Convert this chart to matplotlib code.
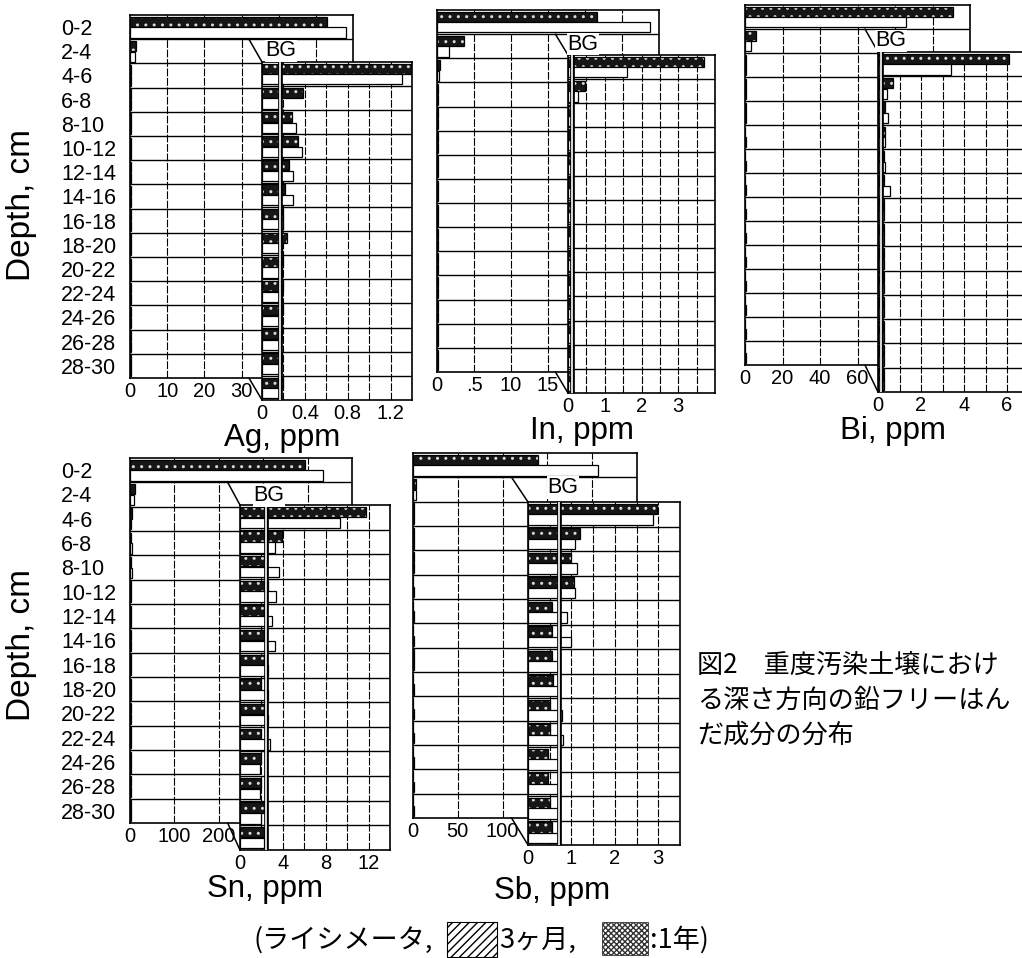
import numpy as np
import matplotlib
matplotlib.use("Agg")
import matplotlib.pyplot as plt
from matplotlib.patches import ConnectionPatch, Rectangle
from matplotlib.transforms import blended_transform_factory

plt.rcParams['font.family'] = ['Liberation Sans', 'Noto Sans CJK JP', 'DejaVu Sans']
plt.rcParams['hatch.linewidth'] = 1.0

# ---------------- data ----------------
depths = ["0-2", "2-4", "4-6", "6-8", "8-10", "10-12", "12-14", "14-16",
          "16-18", "18-20", "20-22", "22-24", "24-26", "26-28", "28-30"]

# upper (dark) bars = 1年, lower (light) bars = 3ヶ月
ag_dark  = [53, 1.5, 0.38, 0.28, 0.34, 0.25, 0.21, 0.20, 0.23, 0.20, 0.20, 0.20, 0.19, 0.19, 0.20]
ag_light = [58, 1.31, 0.17, 0.32, 0.37, 0.29, 0.29, 0.20, 0.19, 0.19, 0.19, 0.19, 0.18, 0.18, 0.18]
in_dark  = [21.6, 3.7, 0.45, 0.12, 0.10, 0.12, 0.10, 0.12, 0.10, 0.10, 0.10, 0.12, 0.10, 0.10, 0.10]
in_light = [28.8, 1.6, 0.28, 0.10, 0.12, 0.10, 0.12, 0.10, 0.12, 0.10, 0.10, 0.10, 0.12, 0.10, 0.10]
bi_dark  = [111, 6.1, 0.70, 0.33, 0.33, 0.26, 0.26, 0.26, 0.26, 0.26, 0.26, 0.26, 0.26, 0.26, 0.26]
bi_light = [86, 3.4, 0.40, 0.47, 0.33, 0.33, 0.56, 0.30, 0.30, 0.30, 0.30, 0.30, 0.30, 0.30, 0.30]
sn_dark  = [394, 11.8, 3.9, 2.5, 2.6, 2.2, 2.2, 2.2, 2.0, 2.2, 2.0, 2.0, 2.0, 2.2, 2.3]
sn_light = [435, 9.3, 3.3, 3.6, 3.4, 3.0, 3.3, 2.6, 2.6, 2.6, 2.8, 1.9, 1.9, 2.0, 2.2]
sb_dark  = [140, 2.97, 1.20, 1.00, 1.05, 0.55, 0.55, 0.55, 0.58, 0.50, 0.50, 0.46, 0.46, 0.50, 0.55]
sb_light = [206, 2.88, 1.08, 1.13, 1.08, 0.90, 1.00, 0.74, 0.74, 0.78, 0.80, 0.70, 0.70, 0.70, 0.70]

# background levels (BG)
bg_levels = {"Ag": 0.17, "In": 0.10, "Bi": 0.12, "Sn": 2.45, "Sb": 0.72}

titles = {"Ag": "Ag, ppm", "In": "In, ppm", "Bi": "Bi, ppm", "Sn": "Sn, ppm", "Sb": "Sb, ppm"}

left_ticks = {"Ag": [0, 10, 20, 30], "In": [0, 5, 10, 15], "Bi": [0, 20, 40, 60],
              "Sn": [0, 100, 200], "Sb": [0, 50, 100]}
left_ticklabels = {"Ag": ["0", "10", "20", "30"], "In": ["0", ".5", "10", "15"],
                   "Bi": ["0", "20", "40", "60"], "Sn": ["0", "100", "200"],
                   "Sb": ["0", "50", "100"]}
right_ticks = {"Ag": [0, 0.4, 0.8, 1.2], "In": [0, 1, 2, 3], "Bi": [0, 2, 4, 6],
               "Sn": [0, 4, 8, 12], "Sb": [0, 1, 2, 3]}
right_ticklabels = {"Ag": ["0", "0.4", "0.8", "1.2"], "In": ["0", "1", "2", "3"],
                    "Bi": ["0", "2", "4", "6"], "Sn": ["0", "4", "8", "12"],
                    "Sb": ["0", "1", "2", "3"]}

series = {"Ag": (ag_dark, ag_light), "In": (in_dark, in_light), "Bi": (bi_dark, bi_light),
          "Sn": (sn_dark, sn_light), "Sb": (sb_dark, sb_light)}

# ---------------- layout (pixels) ----------------
W, H = 1022, 958
layout = {
    "Ag": dict(L=(130, 15, 353, 378), Lx=60, Ls=10, R=(262, 62, 412, 400), Rx=1.4, Rs=0.2,
               T=(282, 438), bg=(19, -11)),
    "In": dict(L=(437, 10, 659, 372), Lx=30, Ls=5, R=(568, 55, 715, 393), Rx=4.0, Rs=0.5,
               T=(582, 431), bg=(15, -11)),
    "Bi": dict(L=(745, 5, 970, 365), Lx=120, Ls=20, R=(878, 52, 1050, 392), Rx=8, Rs=1,
               T=(893, 431), bg=(13, -11)),
    "Sn": dict(L=(130, 458, 352, 823), Lx=500, Ls=100, R=(240, 505, 390, 850), Rx=14, Rs=2,
               T=(265, 889), bg=(29, -9)),
    "Sb": dict(L=(413, 453, 637, 818), Lx=250, Ls=50, R=(528, 502, 680, 845), Rx=3.5, Rs=0.5,
               T=(552, 891), bg=(35, -15)),
}

fig = plt.figure(figsize=(W / 100, H / 100), dpi=100)
fig.patch.set_facecolor("white")


def px_axes(box):
    x0, y0, x1, y1 = box
    return fig.add_axes([x0 / W, 1 - y1 / H, (x1 - x0) / W, (y1 - y0) / H])


def draw_bars(ax, dark, light):
    n = len(dark)
    rows = np.arange(n)
    ax.barh(rows - 0.22, dark, height=0.42, color="#161616", edgecolor="#d8d8d8",
            hatch="..", linewidth=0, zorder=2)
    ax.barh(rows - 0.22, dark, height=0.42, fill=False, edgecolor="black",
            linewidth=0.9, zorder=3)
    ax.barh(rows + 0.22, light, height=0.42, color="white", edgecolor="black",
            linewidth=0.9, zorder=3)
    ax.set_ylim(n - 0.5, -0.5)
    for b in np.arange(0.5, n - 0.5, 1):
        ax.axhline(b, color="black", lw=1.0, zorder=1)


def style_axes(ax, xmax, step, ticks, labels):
    ax.set_xlim(0, xmax)
    for g in np.arange(step, xmax - step * 0.01, step):
        ax.axvline(g, color="black", lw=0.8, ls=(0, (7, 1.5)), zorder=1)
    ax.set_xticks(ticks, labels)
    ax.set_yticks([])
    ax.tick_params(axis="x", length=0, labelsize=14.5, pad=3)
    ax.set_facecolor("white")
    for s in ax.spines.values():
        s.set_linewidth(1.2)


for key, lay in layout.items():
    dark, light = series[key]
    axL = px_axes(lay["L"])
    draw_bars(axL, dark, light)
    style_axes(axL, lay["Lx"], lay["Ls"], left_ticks[key], left_ticklabels[key])

    axR = px_axes(lay["R"])
    draw_bars(axR, dark[1:], light[1:])
    style_axes(axR, lay["Rx"], lay["Rs"], right_ticks[key], right_ticklabels[key])
    bg = bg_levels[key]
    axR.axvline(bg, color="black", lw=3.4, zorder=5)
    axR.axvline(bg, color="white", lw=1.2, zorder=6)

    # connector lines
    last = left_ticks[key][-1] + 0.2 * lay["Ls"]
    c1 = ConnectionPatch(xyA=(last, 0.5), coordsA=axL.transData,
                         xyB=(0, 1), coordsB=axR.transAxes, color="black", lw=1.1)
    c2 = ConnectionPatch(xyA=(last, 14.5), coordsA=axL.transData,
                         xyB=(0, 0), coordsB=axR.transAxes, color="black", lw=1.1)
    fig.add_artist(c1)
    fig.add_artist(c2)

    # BG label
    x0, y0 = lay["R"][0], lay["R"][1]
    fig.text((x0 + lay["bg"][0]) / W, 1 - (y0 + lay["bg"][1]) / H, "BG", fontsize=15.5,
             ha="center", va="center",
             bbox=dict(facecolor="white", edgecolor="none", pad=0.5), zorder=4)

    # title
    tx, ty = lay["T"]
    fig.text(tx / W, 1 - ty / H, titles[key], fontsize=22.5, ha="center", va="center")

# depth labels & y-titles for the two left panels
for key, ycen in (("Ag", 205), ("Sn", 645)):
    axL = fig.axes[list(layout).index(key) * 2]
    tr = blended_transform_factory(fig.transFigure, axL.transData)
    for i, d in enumerate(depths):
        axL.text(61 / W, i + 0.1, d, transform=tr, fontsize=15.5, ha="left", va="center",
                 clip_on=False)
    fig.text(22 / W, 1 - ycen / H, "Depth, cm", rotation=90, fontsize=24,
             ha="center", va="center")

# legend caption
jp = ["Noto Sans CJK JP", "DejaVu Sans"]
cy = 940
fig.text(253 / W, 1 - cy / H, "(ライシメータ,", fontsize=19.5, ha="left", va="center", family=jp)
fig.add_artist(Rectangle((447 / W, 1 - 957 / H), 50 / W, 35 / H, transform=fig.transFigure,
                         facecolor="white", edgecolor="black", hatch="////", lw=0.8))
fig.text(499 / W, 1 - cy / H, "3ヶ月,", fontsize=19.5, ha="left", va="center", family=jp)
fig.add_artist(Rectangle((602 / W, 1 - 955 / H), 46 / W, 33 / H, transform=fig.transFigure,
                         facecolor="white", edgecolor="#333333", hatch="xxxxxx", lw=0.6))
fig.text(650 / W, 1 - cy / H, ":1年)", fontsize=19.5, ha="left", va="center", family=jp)

# figure caption (right side)
cap_lines = ["図2　重度汚染土壌におけ", "る深さ方向の鉛フリーはん", "だ成分の分布"]
for i, line in enumerate(cap_lines):
    fig.text(697 / W, 1 - (665 + 35 * i) / H, line, fontsize=18.8, ha="left", va="center",
             family=jp)

fig.savefig("out.png", dpi=100)
